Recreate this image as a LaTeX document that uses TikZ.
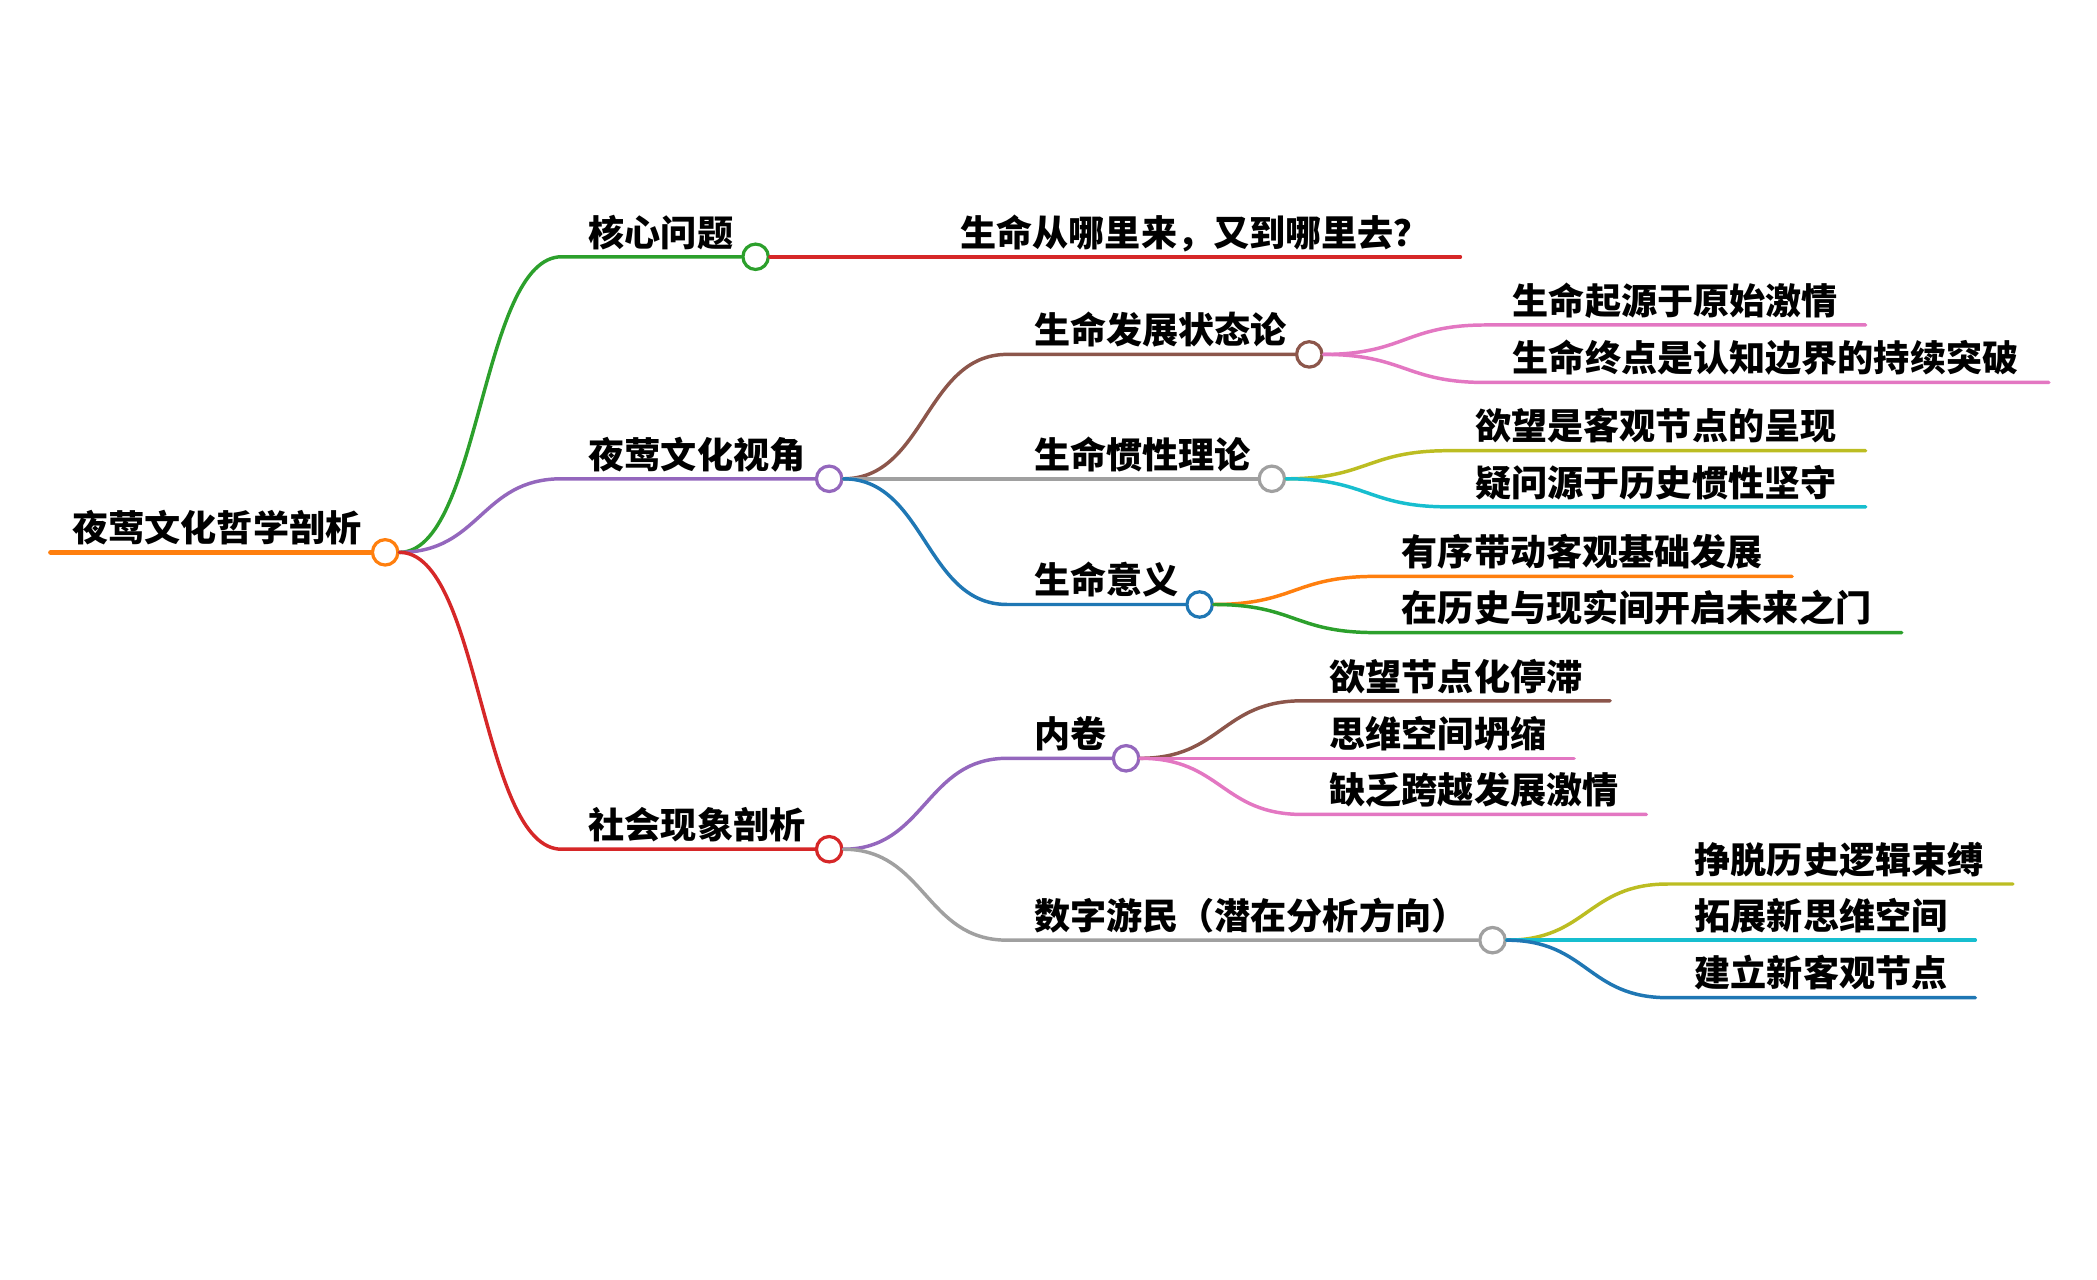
\documentclass[tikz,border=0pt]{standalone}
\usepackage{fontspec}
\setmainfont{Noto Sans CJK SC}
\usepackage{xcolor}
\usetikzlibrary{calc}

\definecolor{cOrange}{HTML}{FF7F0E}
\definecolor{cGreen}{HTML}{2CA02C}
\definecolor{cPurple}{HTML}{9467BD}
\definecolor{cRed}{HTML}{D62728}
\definecolor{cBrown}{HTML}{8C564B}
\definecolor{cPink}{HTML}{E377C2}
\definecolor{cGray}{HTML}{A0A0A0}
\definecolor{cOlive}{HTML}{BCBD22}
\definecolor{cCyan}{HTML}{17BECF}
\definecolor{cBlue}{HTML}{1F77B4}

\begin{document}
\begin{tikzpicture}[x=1pt, y=-1pt,
    dot/.style = {draw, circle, fill=white, line width=2.4pt, minimum size=19pt, inner sep=0pt},
    txt/.style = {anchor=base west, inner sep=0pt, font=\fontsize{27}{30}\selectfont\bfseries},
    lnk/.style = {line width=2.6pt, line cap=round},
    branch/.style = {to path={let \p1=(\tikztostart), \p2=(\tikztotarget) in
        .. controls ({(\x1+\x2)/2},\y1) and ({(\x1+\x2)/2},\y2) .. (\tikztotarget)}}]
  \useasboundingbox (0,0) rectangle (1568,957);

  % root
  \coordinate (s_root) at (38,413);
  \node[txt] (t_root) at ([xshift=16pt,yshift=8pt]s_root) {夜莺文化哲学剖析};
  \node[dot, draw=cOrange] (c_root) at (288,413) {};

  % first level
  \coordinate (s_core) at (420,192);
  \coordinate (s_view) at (420,358);
  \coordinate (s_soc) at (420,635);
  \node[txt] (t_core) at ([xshift=20pt,yshift=8pt]s_core) {核心问题};
  \node[txt] (t_view) at ([xshift=20pt,yshift=8pt]s_view) {夜莺文化视角};
  \node[txt] (t_soc) at ([xshift=20pt,yshift=8pt]s_soc) {社会现象剖析};
  \node[dot, draw=cGreen] (c_core) at (565,192) {};
  \node[dot, draw=cPurple] (c_view) at (620,358) {};
  \node[dot, draw=cRed] (c_soc) at (620,635) {};

  % second level
  \coordinate (s_ask) at (698,192);
  \coordinate (e_ask) at (1092,192);
  \coordinate (s_state) at (753,265);
  \coordinate (s_inert) at (753,358);
  \coordinate (s_mean) at (753,452);
  \coordinate (s_invol) at (753,567);
  \coordinate (s_nomad) at (753,703);
  \node[txt] (t_ask) at ([xshift=20pt,yshift=8pt]s_ask) {生命从哪里来，又到哪里去？};
  \node[txt] (t_state) at ([xshift=20pt,yshift=8pt]s_state) {生命发展状态论};
  \node[txt] (t_inert) at ([xshift=20pt,yshift=8pt]s_inert) {生命惯性理论};
  \node[txt] (t_mean) at ([xshift=20pt,yshift=8pt]s_mean) {生命意义};
  \node[txt] (t_invol) at ([xshift=20pt,yshift=8pt]s_invol) {内卷};
  \node[txt] (t_nomad) at ([xshift=20pt,yshift=8pt]s_nomad) {数字游民（潜在分析方向）};
  \node[dot, draw=cBrown] (c_state) at (979,265) {};
  \node[dot, draw=cGray] (c_inert) at (951,358) {};
  \node[dot, draw=cBlue] (c_mean) at (897,452) {};
  \node[dot, draw=cPurple] (c_invol) at (842,567) {};
  \node[dot, draw=cGray] (c_nomad) at (1116,703) {};

  % leaves
  \coordinate (s_orig) at (1111,243);   \coordinate (e_orig) at (1395,243);
  \coordinate (s_end) at (1111,286);    \coordinate (e_end) at (1532,286);
  \coordinate (s_wish) at (1083,337);   \coordinate (e_wish) at (1395,337);
  \coordinate (s_doubt) at (1083,379);  \coordinate (e_doubt) at (1395,379);
  \coordinate (s_order) at (1028,431);  \coordinate (e_order) at (1340,431);
  \coordinate (s_door) at (1028,473);   \coordinate (e_door) at (1422,473);
  \coordinate (s_stall) at (974,524);   \coordinate (e_stall) at (1204,524);
  \coordinate (s_coll) at (974,567);    \coordinate (e_coll) at (1177,567);
  \coordinate (s_lack) at (974,609);    \coordinate (e_lack) at (1231,609);
  \coordinate (s_free) at (1247,661);   \coordinate (e_free) at (1505,661);
  \coordinate (s_expand) at (1247,703); \coordinate (e_expand) at (1477,703);
  \coordinate (s_build) at (1247,746);  \coordinate (e_build) at (1477,746);
  \node[txt] (t_orig) at ([xshift=20pt,yshift=8pt]s_orig) {生命起源于原始激情};
  \node[txt] (t_end) at ([xshift=20pt,yshift=8pt]s_end) {生命终点是认知边界的持续突破};
  \node[txt] (t_wish) at ([xshift=20pt,yshift=8pt]s_wish) {欲望是客观节点的呈现};
  \node[txt] (t_doubt) at ([xshift=20pt,yshift=8pt]s_doubt) {疑问源于历史惯性坚守};
  \node[txt] (t_order) at ([xshift=20pt,yshift=8pt]s_order) {有序带动客观基础发展};
  \node[txt] (t_door) at ([xshift=20pt,yshift=8pt]s_door) {在历史与现实间开启未来之门};
  \node[txt] (t_stall) at ([xshift=20pt,yshift=8pt]s_stall) {欲望节点化停滞};
  \node[txt] (t_coll) at ([xshift=20pt,yshift=8pt]s_coll) {思维空间坍缩};
  \node[txt] (t_lack) at ([xshift=20pt,yshift=8pt]s_lack) {缺乏跨越发展激情};
  \node[txt] (t_free) at ([xshift=20pt,yshift=8pt]s_free) {挣脱历史逻辑束缚};
  \node[txt] (t_expand) at ([xshift=20pt,yshift=8pt]s_expand) {拓展新思维空间};
  \node[txt] (t_build) at ([xshift=20pt,yshift=8pt]s_build) {建立新客观节点};

  \draw[lnk, cOrange, line width=4pt] (s_root) -- (c_root.west);

  \draw[lnk, cGreen] (c_root.east) to[branch] (s_core) -- (c_core.west);
  \draw[lnk, cPurple] (c_root.east) to[branch] (s_view) -- (c_view.west);
  \draw[lnk, cRed] (c_root.east) to[branch] (s_soc) -- (c_soc.west);

  \draw[lnk, cRed] (c_core.east) to[branch] (s_ask) -- (e_ask);
  \draw[lnk, cBrown] (c_view.east) to[branch] (s_state) -- (c_state.west);
  \draw[lnk, cGray] (c_view.east) to[branch] (s_inert) -- (c_inert.west);
  \draw[lnk, cBlue] (c_view.east) to[branch] (s_mean) -- (c_mean.west);
  \draw[lnk, cPurple] (c_soc.east) to[branch] (s_invol) -- (c_invol.west);
  \draw[lnk, cGray] (c_soc.east) to[branch] (s_nomad) -- (c_nomad.west);

  \draw[lnk, cPink] (c_state.east) to[branch] (s_orig) -- (e_orig);
  \draw[lnk, cPink] (c_state.east) to[branch] (s_end) -- (e_end);
  \draw[lnk, cOlive] (c_inert.east) to[branch] (s_wish) -- (e_wish);
  \draw[lnk, cCyan] (c_inert.east) to[branch] (s_doubt) -- (e_doubt);
  \draw[lnk, cOrange] (c_mean.east) to[branch] (s_order) -- (e_order);
  \draw[lnk, cGreen] (c_mean.east) to[branch] (s_door) -- (e_door);
  \draw[lnk, cBrown] (c_invol.east) to[branch] (s_stall) -- (e_stall);
  \draw[lnk, cPink] (c_invol.east) to[branch] (s_coll) -- (e_coll);
  \draw[lnk, cPink] (c_invol.east) to[branch] (s_lack) -- (e_lack);
  \draw[lnk, cOlive] (c_nomad.east) to[branch] (s_free) -- (e_free);
  \draw[lnk, cCyan] (c_nomad.east) to[branch] (s_expand) -- (e_expand);
  \draw[lnk, cBlue] (c_nomad.east) to[branch] (s_build) -- (e_build);
\end{tikzpicture}
\end{document}
